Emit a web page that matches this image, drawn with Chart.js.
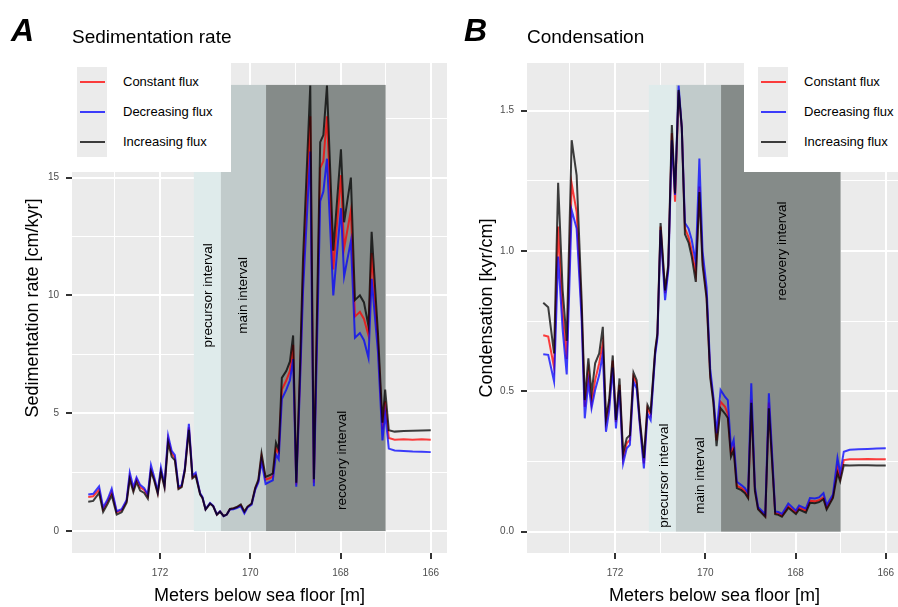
<!DOCTYPE html>
<html>
<head>
<meta charset="utf-8">
<script src="https://cdn.jsdelivr.net/npm/chart.js@4.4.1/dist/chart.umd.min.js"></script>
<style>
  html, body { margin: 0; padding: 0; background: #fff; }
  body { width: 898px; height: 607px; overflow: hidden; position: relative; font-family: 'Liberation Sans', Arial, sans-serif; }
  canvas { position: absolute; top: 0; }
  .tag { position: absolute; font-weight: bold; font-style: italic; font-size: 32px; color: #000; }
  .title { position: absolute; font-size: 19px; color: #000; }
  .legend { position: absolute; background: #fff; }
  .keys { position: absolute; background: #ebebeb; width: 30px; height: 90px; }
  .key { position: absolute; left: 3px; width: 25px; height: 2px; }
  .lab { position: absolute; font-size: 13px; color: #000; line-height: 16px; white-space: nowrap; }
</style>
</head>
<body>
<canvas id="chartA" width="449" height="607" style="left:0"></canvas>
<canvas id="chartB" width="455" height="607" style="left:449px"></canvas>
<div class="tag" style="left:11px;top:12px">A</div>
<div class="title" style="left:72px;top:26px">Sedimentation rate</div>
<div class="tag" style="left:464px;top:12px">B</div>
<div class="title" style="left:527px;top:26px">Condensation</div>
<div class="legend" id="legA" style="left:62px;top:56px;width:169px;height:116px"></div>
<div class="legend" id="legB" style="left:744px;top:56px;width:160px;height:116px"></div>
<script>
// depth of each sample [m below sea floor]
const depth = [173.59, 173.48, 173.35, 173.26, 173.16, 173.07, 172.96, 172.85, 172.74, 172.67,
  172.59, 172.52, 172.44, 172.35, 172.27, 172.20, 172.13, 172.05, 171.98, 171.90,
  171.82, 171.74, 171.67, 171.59, 171.52, 171.45, 171.36, 171.28, 171.21, 171.11,
  171.06, 170.99, 170.89, 170.82, 170.74, 170.67, 170.59, 170.52, 170.45, 170.37,
  170.30, 170.21, 170.13, 170.06, 169.97, 169.89, 169.82, 169.75, 169.66, 169.56,
  169.50, 169.43, 169.37, 169.30, 169.20, 169.12, 169.05, 168.98, 168.90, 168.83,
  168.67, 168.59, 168.45, 168.38, 168.30, 168.16, 167.99, 167.92, 167.77, 167.68,
  167.57, 167.48, 167.38, 167.31, 167.17, 167.07, 167.01, 166.93, 166.80, 166.60,
  166.40, 166.20, 166.00];

// sedimentation rate [cm/kyr]
const sedConstant = [1.45, 1.48, 1.76, 0.92, 1.27, 1.66, 0.79, 0.88, 1.27, 2.32,
  1.76, 2.20, 1.86, 1.75, 1.48, 2.62, 2.22, 1.63, 2.56, 1.92,
  3.90, 3.30, 3.10, 1.82, 1.90, 2.60, 4.40, 2.28, 2.40, 1.58,
  1.42, 0.92, 1.17, 1.06, 0.70, 0.83, 0.64, 0.70, 0.93, 0.96,
  1.00, 1.10, 0.80, 1.02, 1.15, 1.80, 2.12, 3.15, 2.18, 2.25,
  2.32, 3.50, 3.30, 6.00, 6.40, 6.80, 7.90, 1.98, 6.40, 10.8,
  17.6, 2.05, 15.4, 15.7, 17.6, 11.1, 15.1, 12.0, 13.6, 9.10,
  9.30, 9.00, 8.30, 11.8, 8.00, 4.30, 5.50, 3.95, 3.88, 3.90,
  3.88, 3.90, 3.88];
const sedDecreasing = [1.55, 1.58, 1.90, 1.00, 1.35, 1.80, 0.84, 0.93, 1.32, 2.48,
  1.86, 2.28, 1.96, 1.82, 1.55, 2.80, 2.30, 1.70, 2.70, 1.98,
  4.05, 3.40, 3.22, 1.88, 1.95, 2.65, 4.55, 2.35, 2.48, 1.60,
  1.45, 0.93, 1.19, 1.07, 0.71, 0.84, 0.63, 0.70, 0.92, 0.93,
  0.98, 1.05, 0.75, 1.00, 1.12, 1.75, 2.06, 2.95, 2.00, 2.10,
  2.15, 3.25, 3.05, 5.60, 6.00, 6.40, 7.30, 1.88, 6.10, 10.2,
  16.1, 1.90, 14.0, 14.4, 15.8, 10.0, 13.7, 10.8, 12.3, 8.20,
  8.40, 8.10, 7.35, 10.7, 7.60, 3.85, 5.00, 3.50, 3.42, 3.40,
  3.38, 3.37, 3.35];
const sedIncreasing = [1.24, 1.28, 1.62, 0.81, 1.16, 1.52, 0.70, 0.80, 1.20, 2.20,
  1.66, 2.08, 1.72, 1.62, 1.38, 2.52, 2.15, 1.58, 2.50, 1.85,
  3.75, 3.15, 3.00, 1.78, 1.86, 2.55, 4.30, 2.24, 2.35, 1.55,
  1.41, 0.91, 1.16, 1.05, 0.69, 0.82, 0.64, 0.70, 0.94, 0.97,
  1.02, 1.13, 0.83, 1.04, 1.17, 1.84, 2.18, 3.30, 2.30, 2.38,
  2.45, 3.75, 3.45, 6.50, 6.80, 7.20, 8.30, 2.05, 6.80, 11.6,
  18.9, 2.20, 16.5, 16.8, 18.9, 11.9, 16.2, 13.1, 15.0, 9.80,
  10.0, 9.70, 8.70, 12.7, 8.40, 4.60, 6.00, 4.28, 4.22, 4.25,
  4.26, 4.27, 4.28];

// condensation [kyr/cm]
const condConstant = [0.700, 0.695, 0.585, 1.087, 0.780, 0.615, 1.240, 1.140, 0.790, 0.445,
  0.570, 0.457, 0.540, 0.600, 0.671, 0.390, 0.450, 0.610, 0.390, 0.523,
  0.261, 0.315, 0.327, 0.552, 0.528, 0.390, 0.243, 0.440, 0.416, 0.640,
  0.700, 1.087, 0.850, 0.940, 1.420, 1.176, 1.568, 1.440, 1.080, 1.050,
  1.000, 0.920, 1.230, 0.970, 0.840, 0.560, 0.470, 0.325, 0.463, 0.445,
  0.420, 0.280, 0.303, 0.163, 0.155, 0.145, 0.125, 0.470, 0.152, 0.083,
  0.056, 0.460, 0.066, 0.065, 0.057, 0.090, 0.068, 0.085, 0.075, 0.110,
  0.108, 0.112, 0.122, 0.085, 0.125, 0.226, 0.190, 0.255, 0.258, 0.258,
  0.259, 0.258, 0.258];
const condDecreasing = [0.632, 0.630, 0.535, 0.980, 0.720, 0.560, 1.146, 1.080, 0.760, 0.404,
  0.534, 0.440, 0.505, 0.558, 0.635, 0.356, 0.430, 0.585, 0.368, 0.505,
  0.243, 0.297, 0.309, 0.534, 0.510, 0.380, 0.225, 0.420, 0.398, 0.630,
  0.690, 1.075, 0.825, 0.930, 1.395, 1.200, 1.590, 1.440, 1.100, 1.080,
  1.040, 0.960, 1.330, 1.000, 0.870, 0.580, 0.480, 0.350, 0.505, 0.480,
  0.469, 0.297, 0.327, 0.178, 0.166, 0.155, 0.137, 0.529, 0.160, 0.088,
  0.062, 0.493, 0.072, 0.070, 0.063, 0.100, 0.075, 0.093, 0.082, 0.120,
  0.118, 0.122, 0.137, 0.094, 0.132, 0.262, 0.208, 0.285, 0.292, 0.294,
  0.295, 0.296, 0.297];
const condIncreasing = [0.816, 0.800, 0.635, 1.243, 0.860, 0.680, 1.395, 1.270, 0.830, 0.469,
  0.618, 0.493, 0.600, 0.635, 0.730, 0.404, 0.470, 0.628, 0.398, 0.546,
  0.279, 0.333, 0.344, 0.567, 0.540, 0.398, 0.262, 0.451, 0.428, 0.647,
  0.707, 1.100, 0.860, 0.950, 1.449, 1.205, 1.574, 1.440, 1.060, 1.030,
  0.980, 0.890, 1.210, 0.950, 0.830, 0.550, 0.460, 0.305, 0.440, 0.420,
  0.405, 0.267, 0.290, 0.155, 0.148, 0.137, 0.119, 0.459, 0.145, 0.080,
  0.053, 0.440, 0.062, 0.060, 0.053, 0.085, 0.063, 0.079, 0.068, 0.103,
  0.101, 0.105, 0.116, 0.079, 0.120, 0.209, 0.180, 0.237, 0.236, 0.237,
  0.237, 0.236, 0.236];

const seriesNames = ['Constant flux', 'Decreasing flux', 'Increasing flux'];
const seriesColors = ['rgba(255, 0, 0, 0.75)', 'rgba(0, 0, 255, 0.75)', 'rgba(0, 0, 0, 0.75)'];

// event intervals (depth from / to)
const intervalNames = ['precursor interval', 'main interval', 'recovery interval'];
const intervalFrom = [171.25, 170.65, 169.65];
const intervalTo = [170.65, 169.65, 167.00];
const intervalFill = ['#dfebeb', '#c1cbcb', '#858b89'];

const depthTicks = [172, 170, 168, 166];
const sedTicks = [0, 5, 10, 15];
const condTicks = [0, 0.5, 1.0, 1.5];

// Background panel, interval boxes and interval labels
const panelPlugin = {
    id: 'panel',
    beforeDraw(chart) {
        const {ctx, chartArea: a} = chart;
        ctx.save();
        ctx.fillStyle = '#ebebeb';
        ctx.fillRect(a.left, a.top, a.right - a.left, a.bottom - a.top);
        ctx.restore();
    },
    beforeDatasetsDraw(chart, args, opts) {
        const {ctx, scales: {x, y}} = chart;
        ctx.save();
        for (let i = 0; i < intervalNames.length; i++) {
            const x0 = x.getPixelForValue(intervalFrom[i]);
            const x1 = x.getPixelForValue(intervalTo[i]);
            const y0 = y.getPixelForValue(opts.top);
            const y1 = y.getPixelForValue(0);
            ctx.fillStyle = intervalFill[i];
            ctx.fillRect(x0, y0, x1 - x0, y1 - y0);
        }
        ctx.restore();
    },
    afterDatasetsDraw(chart, args, opts) {
        const {ctx, scales: {x, y}} = chart;
        ctx.save();
        ctx.fillStyle = '#000';
        ctx.font = "13.5px 'Liberation Sans', Arial, sans-serif";
        ctx.textAlign = 'center';
        ctx.textBaseline = 'middle';
        for (let i = 0; i < intervalNames.length; i++) {
            ctx.save();
            ctx.translate(x.getPixelForValue(opts.labelX[i]), y.getPixelForValue(opts.labelY[i]));
            ctx.rotate(-Math.PI / 2);
            ctx.fillText(intervalNames[i], 0, 0);
            ctx.restore();
        }
        ctx.restore();
    }
};

function makePanel(canvasId, series, yOpts) {
    const ctx = document.getElementById(canvasId).getContext('2d');

    const datasets = series.map((values, i) => ({
        label: seriesNames[i],
        data: depth.map((d, j) => ({x: d, y: values[j]})),
        borderColor: seriesColors[i],
        borderWidth: 2,
        pointRadius: 0,
        tension: 0,
        fill: false,
        order: 3 - i
    }));

    return new Chart(ctx, {
        type: 'line',
        data: {datasets: datasets},
        options: {
            responsive: false,
            animation: false,
            devicePixelRatio: 1,
            layout: {padding: {left: 0, right: 2, top: 63, bottom: 0}},
            scales: {
                x: {
                    type: 'linear',
                    reverse: true,
                    min: 165.64,
                    max: 173.95,
                    afterBuildTicks: s => { s.ticks = [166, 167, 168, 169, 170, 171, 172, 173].map(v => ({value: v})); },
                    afterFit: s => { s.height = 54; },
                    border: {display: false},
                    grid: {
                        color: '#ffffff',
                        lineWidth: c => depthTicks.includes(c.tick.value) ? 2 : 1,
                        tickColor: c => depthTicks.includes(c.tick.value) ? '#333333' : 'rgba(0,0,0,0)',
                        tickLength: 6,
                        tickWidth: 2
                    },
                    ticks: {
                        autoSkip: false,
                        maxRotation: 0,
                        color: '#4d4d4d',
                        font: {size: 10},
                        padding: 8,
                        callback: v => depthTicks.includes(v) ? String(v) : ''
                    },
                    title: {
                        display: true,
                        text: 'Meters below sea floor [m]',
                        color: '#000',
                        font: {size: 18},
                        padding: {top: 0, bottom: 0}
                    }
                },
                y: {
                    type: 'linear',
                    min: yOpts.min,
                    max: yOpts.max,
                    afterBuildTicks: s => { s.ticks = yOpts.gridAt.map(v => ({value: v})); },
                    afterFit: s => { s.width = yOpts.width; },
                    border: {display: false},
                    grid: {
                        color: '#ffffff',
                        lineWidth: c => yOpts.ticks.includes(c.tick.value) ? 2 : 1,
                        tickColor: c => yOpts.ticks.includes(c.tick.value) ? '#333333' : 'rgba(0,0,0,0)',
                        tickLength: 6,
                        tickWidth: 2
                    },
                    ticks: {
                        autoSkip: false,
                        color: '#4d4d4d',
                        font: {size: 10},
                        padding: 7,
                        callback: v => yOpts.ticks.includes(v) ? yOpts.fmt(v) : ''
                    },
                    title: {
                        display: true,
                        text: yOpts.title,
                        color: '#000',
                        font: {size: 18},
                        padding: {top: yOpts.titlePad, bottom: 0}
                    }
                }
            },
            plugins: {
                legend: {display: false},
                tooltip: {enabled: false},
                panel: {top: yOpts.boxTop, labelX: yOpts.labelX, labelY: yOpts.labelY}
            }
        },
        plugins: [panelPlugin]
    });
}

makePanel('chartA', [sedConstant, sedDecreasing, sedIncreasing], {
    min: -0.93, max: 19.86, width: 72,
    ticks: sedTicks,
    gridAt: [0, 2.5, 5, 7.5, 10, 12.5, 15, 17.5],
    fmt: v => String(v),
    title: 'Sedimentation rate [cm/kyr]',
    titlePad: 22,
    boxTop: 18.93,
    labelX: [170.92, 170.15, 167.97],
    labelY: [10, 10, 3]
});

makePanel('chartB', [condConstant, condDecreasing, condIncreasing], {
    min: -0.076, max: 1.670, width: 78,
    ticks: condTicks,
    gridAt: [0, 0.25, 0.5, 0.75, 1.0, 1.25, 1.5],
    fmt: v => v.toFixed(1),
    title: 'Condensation [kyr/cm]',
    titlePad: 27,
    boxTop: 1.592,
    labelX: [170.91, 170.12, 168.29],
    labelY: [0.2, 0.2, 1.0]
});

// legends
function buildLegend(id, keyLeft) {
    const box = document.getElementById(id);
    const keys = document.createElement('div');
    keys.className = 'keys';
    keys.style.left = keyLeft + 'px';
    keys.style.top = '11px';
    box.appendChild(keys);
    seriesNames.forEach((name, i) => {
        const line = document.createElement('div');
        line.className = 'key';
        line.style.top = (14 + i * 30) + 'px';
        line.style.background = seriesColors[i];
        keys.appendChild(line);
        const lab = document.createElement('div');
        lab.className = 'lab';
        lab.style.left = (keyLeft + 46) + 'px';
        lab.style.top = (18 + i * 30) + 'px';
        lab.textContent = name;
        box.appendChild(lab);
    });
}
buildLegend('legA', 15);
buildLegend('legB', 14);
</script>
</body>
</html>
